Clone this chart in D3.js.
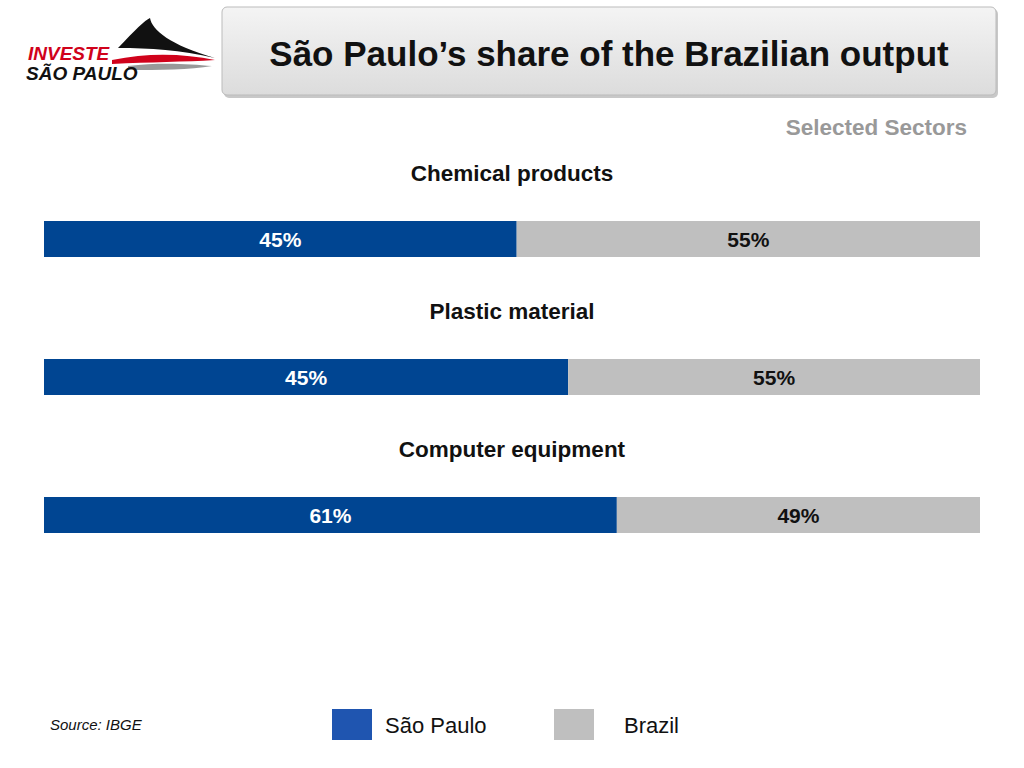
<!DOCTYPE html>
<html>
<head>
<script src="https://cdnjs.cloudflare.com/ajax/libs/d3/7.8.5/d3.min.js"></script>
<style>
  body { margin: 0; background: #fff; }
  text { font-family: Arial, "Liberation Sans", sans-serif; }
</style>
</head>
<body>
<svg id="chart" width="1024" height="768"></svg>
<script>
// data
var sectors = ["Chemical products", "Plastic material", "Computer equipment"];
var spShare = [50.5, 56, 61.2];          // drawn width of the São Paulo part (%)
var spLabels = ["45%", "45%", "61%"];     // labels as printed
var brLabels = ["55%", "55%", "49%"];
var seriesNames = ["São Paulo", "Brazil"];
var seriesColors = ["#004592", "#bfbfbf"];

var svg = d3.select("#chart");

// logo
var logo = svg.append("g");
logo.append("path").attr("d", "M118,48 C135,30 145,20 150,18 C152,30 170,45 215,58 C180,50 150,48 118,48 Z").attr("fill", "#111");
logo.append("path").attr("d", "M112,60 C150,52 185,54 215,60 C185,62 150,62 112,64 Z").attr("fill", "#d0021b");
logo.append("path").attr("d", "M128,66 C160,62 190,64 212,66 C190,70 160,70 128,70 Z").attr("fill", "#999");
logo.append("text").attr("x", 28).attr("y", 60).attr("font-size", 19).attr("font-weight", "bold")
  .attr("font-style", "italic").attr("fill", "#d0021b").text("INVESTE");
logo.append("text").attr("x", 26).attr("y", 80).attr("font-size", 19).attr("font-weight", "bold")
  .attr("font-style", "italic").attr("fill", "#111").text("SÃO PAULO");

// title box
var defs = svg.append("defs");
var grad = defs.append("linearGradient").attr("id", "tg").attr("x1", 0).attr("y1", 0).attr("x2", 0).attr("y2", 1);
grad.append("stop").attr("offset", "0%").attr("stop-color", "#f4f4f4");
grad.append("stop").attr("offset", "100%").attr("stop-color", "#dcdcdc");
svg.append("rect").attr("x", 224).attr("y", 9).attr("width", 774).attr("height", 89).attr("rx", 5).attr("fill", "#c8c8c8");
svg.append("rect").attr("x", 222).attr("y", 7).attr("width", 774).attr("height", 88).attr("rx", 5)
  .attr("fill", "url(#tg)").attr("stroke", "#bbb");
svg.append("text").attr("x", 609).attr("y", 66).attr("text-anchor", "middle")
  .attr("font-size", 35).attr("font-weight", "bold").attr("fill", "#111")
  .text("São Paulo’s share of the Brazilian output");

svg.append("text").attr("x", 967).attr("y", 135).attr("text-anchor", "end")
  .attr("font-size", 22.5).attr("font-weight", "bold").attr("fill", "#999").text("Selected Sectors");

// bars
var x = d3.scaleLinear().domain([0, 100]).range([44, 980]);
var y = d3.scaleBand().domain(sectors).range([152, 566]).paddingInner(0);
var barTop = 69, barH = 36;

sectors.forEach(function (s, i) {
  var g = svg.append("g").attr("transform", "translate(0," + y(s) + ")");
  g.append("text").attr("x", 512).attr("y", 29).attr("text-anchor", "middle")
    .attr("font-size", 22.5).attr("font-weight", "bold").attr("fill", "#111").text(s);
  g.append("rect").attr("x", x(0)).attr("y", barTop).attr("width", x(spShare[i]) - x(0)).attr("height", barH).attr("fill", seriesColors[0]);
  g.append("rect").attr("x", x(spShare[i])).attr("y", barTop).attr("width", x(100) - x(spShare[i])).attr("height", barH).attr("fill", seriesColors[1]);
  g.append("text").attr("x", (x(0) + x(spShare[i])) / 2).attr("y", barTop + 26).attr("text-anchor", "middle")
    .attr("font-size", 21).attr("font-weight", "bold").attr("fill", "#fff").text(spLabels[i]);
  g.append("text").attr("x", (x(spShare[i]) + x(100)) / 2).attr("y", barTop + 26).attr("text-anchor", "middle")
    .attr("font-size", 21).attr("font-weight", "bold").attr("fill", "#111").text(brLabels[i]);
});

// legend
var legX = [332, 554], txtX = [385, 624];
seriesNames.forEach(function (n, i) {
  svg.append("rect").attr("x", legX[i]).attr("y", 709).attr("width", 40).attr("height", 31)
    .attr("fill", i === 0 ? "#1f55b0" : seriesColors[1]);
  svg.append("text").attr("x", txtX[i]).attr("y", 733).attr("font-size", 22).attr("fill", "#111").text(n);
});
svg.append("text").attr("x", 50).attr("y", 730).attr("font-size", 15).attr("font-style", "italic")
  .attr("fill", "#111").text("Source: IBGE");
</script>
</body>
</html>
